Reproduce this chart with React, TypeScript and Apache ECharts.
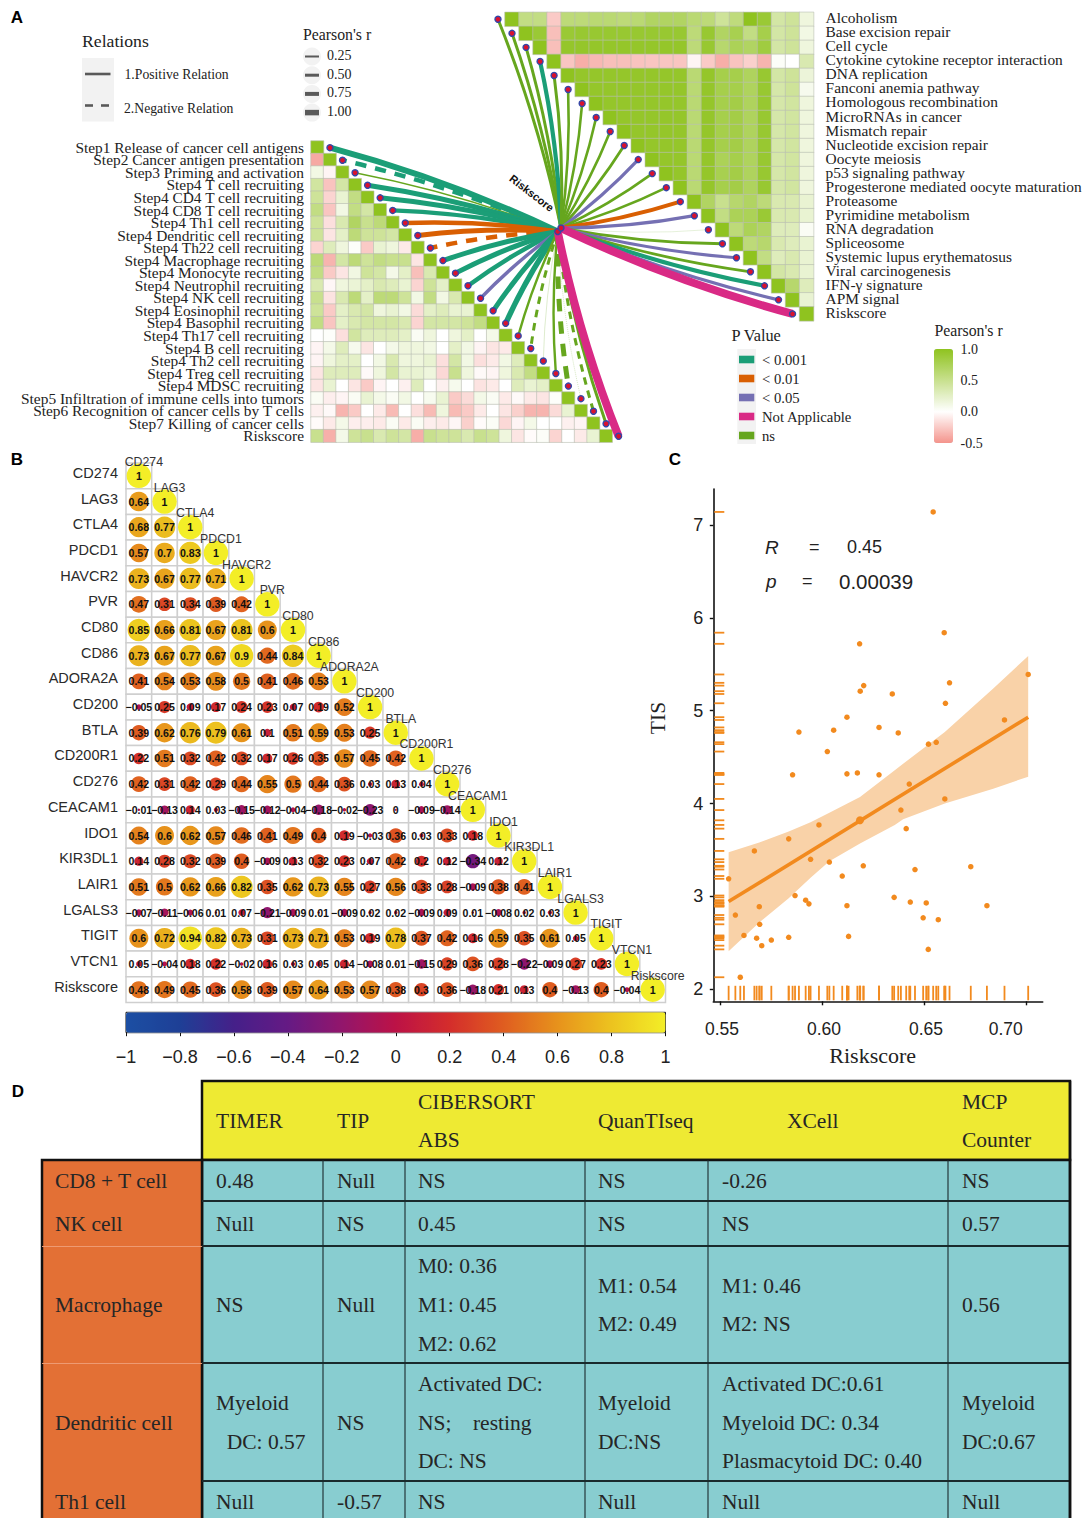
import React, { useEffect, useRef } from "react";
import * as echarts from "echarts";

/* ---------- Panel A ---------- */
const immuneSteps = [
  "Step1 Release of cancer cell antigens", "Step2 Cancer antigen presentation", "Step3 Priming and activation",
  "Step4 T cell recruiting", "Step4 CD4 T cell recruiting", "Step4 CD8 T cell recruiting", "Step4 Th1 cell recruiting",
  "Step4 Dendritic cell recruiting", "Step4 Th22 cell recruiting", "Step4 Macrophage recruiting", "Step4 Monocyte recruiting",
  "Step4 Neutrophil recruiting", "Step4 NK cell recruiting", "Step4 Eosinophil recruiting", "Step4 Basophil recruiting",
  "Step4 Th17 cell recruiting", "Step4 B cell recruiting", "Step4 Th2 cell recruiting", "Step4 Treg cell recruiting",
  "Step4 MDSC recruiting", "Step5 Infiltration of immune cells into tumors", "Step6 Recognition of cancer cells by T cells",
  "Step7 Killing of cancer cells", "Riskscore",
];
const immuneMatrix = [
  [1],
  [-0.4, 1],
  [0.12, -0.05, 1],
  [0.42, -0.28, 0.4, 1],
  [0.45, -0.2, 0.2, 0.55, 1],
  [0.55, -0.27, 0.12, 0.55, 0.4, 1],
  [0.45, -0.15, 0.35, 0.7, 0.5, 0.6, 1],
  [0.45, -0.12, 0.25, 0.6, 0.45, 0.45, 0.4, 1],
  [-0.2, 0.3, 0.15, 0.02, -0.25, 0.2, 0.15, -0.1, 1],
  [0.6, -0.35, 0.4, 0.6, 0.45, 0.55, 0.5, 0.5, -0.12, 1],
  [0.55, -0.25, -0.12, 0.13, 0.45, 0.4, 0.1, 0.25, -0.3, 0.35, 1],
  [0.35, -0.04, 0.15, 0.18, 0.25, 0.35, 0.3, 0.2, -0.2, 0.45, 0.25, 1],
  [0.5, -0.13, 0.35, 0.6, 0.25, 0.6, 0.6, 0.45, 0.12, 0.55, 0.12, 0.35, 1],
  [0.45, -0.25, 0.25, 0.35, 0.4, 0.15, 0.2, 0.12, -0.17, 0.25, 0.3, 0.2, 0.2, 1],
  [0.55, -0.27, 0.25, 0.35, 0.4, 0.4, 0.4, 0.35, -0.2, 0.4, 0.4, 0.4, 0.45, 0.55, 1],
  [0, 0.02, -0.15, 0.42, 0.3, 0.3, 0.3, 0.25, 0.05, 0.15, 0, 0.15, 0.25, 0, 0.1, 1],
  [-0.05, 0.1, 0.3, 0.08, -0.12, 0, 0.1, 0.15, 0.15, 0.12, 0, 0.25, 0.12, -0.05, -0.12, -0.1, 1],
  [-0.05, 0.15, 0.25, 0.25, 0, 0.12, 0.35, 0.15, 0.15, 0.2, -0.15, 0.4, 0.12, -0.15, -0.1, 0.12, 0.3, 1],
  [-0.12, 0.3, 0.3, 0.3, -0.03, 0.15, 0.4, 0.2, 0.2, 0.15, -0.18, 0.5, 0.15, -0.03, -0.05, 0.15, 0.35, 0.55, 1],
  [-0.12, 0.2, 0, -0.12, -0.25, -0.05, 0, -0.07, 0.3, 0, -0.07, 0.08, 0, -0.13, -0.1, 0, 0.3, 0.2, 0.25, 1],
  [0.05, -0.08, -0.05, 0.05, 0.2, 0.1, 0.05, 0.12, 0, 0.07, 0.2, -0.25, -0.17, 0.1, 0.05, -0.1, -0.03, -0.1, -0.12, 0.02, 1],
  [-0.07, -0.03, -0.35, -0.25, 0, -0.1, -0.32, 0, -0.15, -0.32, 0.15, -0.32, -0.25, -0.1, 0, -0.12, -0.22, -0.35, -0.35, -0.17, 0.2, 1],
  [-0.02, -0.1, 0.1, -0.08, -0.08, -0.1, 0.05, -0.1, 0.05, -0.08, -0.1, -0.04, -0.22, -0.02, 0.04, -0.18, -0.05, 0.1, 0, 0, -0.07, -0.05, 1],
  [0.5, -0.37, 0.1, 0.45, 0.5, 0.35, 0.45, 0.4, -0.38, 0.5, 0.45, 0.45, 0.35, 0.5, 0.45, 0.15, -0.12, -0.02, 0.03, -0.2, 0, -0.1, 0.2, 1],
];
const pathways = [
  "Alcoholism", "Base excision repair", "Cell cycle", "Cytokine cytokine receptor interaction", "DNA replication",
  "Fanconi anemia pathway", "Homologous recombination", "MicroRNAs in cancer", "Mismatch repair", "Nucleotide excision repair",
  "Oocyte meiosis", "p53 signaling pathway", "Progesterone mediated oocyte maturation", "Proteasome", "Pyrimidine metabolism",
  "RNA degradation", "Spliceosome", "Systemic lupus erythematosus", "Viral carcinogenesis", "IFN-γ signature", "APM signal", "Riskscore",
];
const pathwayMatrix = [
  [1, 0.55, 0.55, -0.25, 0.6, 0.6, 0.62, 0.62, 0.6, 0.62, 0.7, 0.7, 0.7, 0.62, 0.6, 0.45, 0.58, 1, 0.9, 0.4, 0.45, 0.15],
  [1, 0.9, -0.3, 0.9, 0.92, 0.92, 0.92, 0.92, 0.92, 0.92, 0.92, 0.92, 0.6, 0.92, 0.7, 0.78, 0.55, 0.8, 0.4, 0.45, 0.12],
  [1, -0.3, 0.95, 0.95, 0.95, 0.95, 0.95, 0.95, 0.95, 0.95, 0.95, 0.6, 0.92, 0.65, 0.75, 0.7, 0.85, 0.4, 0.45, 0.15],
  [1, -0.27, -0.38, -0.33, -0.3, -0.3, -0.28, -0.27, -0.27, -0.27, -0.05, -0.25, -0.38, -0.28, -0.22, -0.35, 0.03, 0, 0.35],
  [1, 0.95, 0.95, 0.95, 0.95, 0.95, 0.95, 0.95, 0.95, 0.62, 0.95, 0.8, 0.8, 0.72, 0.92, 0.4, 0.45, 0.17],
  [1, 0.95, 0.95, 0.95, 0.95, 0.95, 0.95, 0.95, 0.62, 0.95, 0.8, 0.8, 0.72, 0.92, 0.38, 0.45, 0.08],
  [1, 0.95, 0.95, 0.95, 0.95, 0.95, 0.95, 0.62, 0.95, 0.8, 0.82, 0.72, 0.92, 0.38, 0.42, 0.15],
  [1, 0.95, 0.95, 0.95, 0.95, 0.95, 0.62, 0.95, 0.8, 0.82, 0.72, 0.92, 0.38, 0.42, 0.15],
  [1, 0.95, 0.95, 0.95, 0.95, 0.62, 0.95, 0.8, 0.82, 0.72, 0.92, 0.38, 0.42, 0.15],
  [1, 0.95, 0.95, 0.95, 0.62, 0.95, 0.8, 0.82, 0.72, 0.92, 0.38, 0.42, 0.15],
  [1, 0.95, 0.95, 0.62, 0.95, 0.75, 0.8, 0.72, 0.92, 0.38, 0.42, 0.15],
  [1, 0.95, 0.62, 0.95, 0.78, 0.82, 0.72, 0.92, 0.38, 0.42, 0.15],
  [1, 0.62, 0.95, 0.8, 0.82, 0.72, 0.92, 0.38, 0.42, 0.15],
  [1, 0.7, 0.5, 0.65, 0.7, 0.6, 0.35, 0.35, 0.2],
  [1, 0.55, 0.75, 0.75, 0.9, 0.35, 0.35, 0.2],
  [1, 0.6, 0.75, 0.7, 0.3, 0.3, 0.05],
  [1, 0.6, 0.65, 0.35, 0.3, 0.2],
  [1, 0.55, 0.3, 0.35, 0.2],
  [1, 0.4, 0.35, 0.2],
  [1, 0.65, 0.3],
  [1, 0.2],
  [1],
];
const pClassNames = ["< 0.001", "< 0.01", "< 0.05", "Not Applicable", "ns"];
const pClassColors = ["#1b9e77", "#d95f02", "#7570b3", "#d92a85", "#66a61e"];
// p class index, width and dash kind (0 solid, 1 dashed, 2 dotted) of every link
const immuneLinkClass = [0, 0, 4, 0, 0, 0, 1, 1, 1, 0, 0, 0, 2, 0, 0, 4, 4, 4, 4, 4, 4, 4, 4, 3];
const immuneLinkWidth = [6, 4.5, 1.3, 5, 5, 4.2, 4.5, 4.8, 4.5, 5, 5, 4.5, 3.4, 5, 5.4, 2.4, 3, 0.4, 2.4, 5, 0.5, 3, 3, 8];
const immuneLinkDash = [0, 1, 0, 0, 0, 0, 0, 0, 1, 0, 0, 0, 0, 0, 0, 0, 1, 0, 0, 1, 2, 1, 0, 0];
const pathwayLinkClass = [4, 4, 4, 0, 4, 4, 4, 4, 4, 4, 2, 4, 4, 1, 2, 4, 4, 2, 4, 0, 2, 3];
const pathwayLinkWidth = [3, 3, 3, 4.2, 3, 2.6, 2.6, 2.6, 2.6, 2.8, 3.2, 2.6, 2.6, 4, 3.2, 0.3, 2.8, 3.2, 2.8, 4.2, 3.2, 8];
const relationLabels = ["1.Positive Relation", "2.Negative Relation"];
const sizeLegendLabels = ["0.25", "0.50", "0.75", "1.00"];

/* ---------- Panel B ---------- */
const checkpointGenes = [
  "CD274", "LAG3", "CTLA4", "PDCD1", "HAVCR2", "PVR", "CD80", "CD86", "ADORA2A", "CD200", "BTLA", "CD200R1", "CD276",
  "CEACAM1", "IDO1", "KIR3DL1", "LAIR1", "LGALS3", "TIGIT", "VTCN1", "Riskscore",
];
const checkpointMatrix = [
  [1],
  [0.64, 1],
  [0.68, 0.77, 1],
  [0.57, 0.7, 0.83, 1],
  [0.73, 0.67, 0.77, 0.71, 1],
  [0.47, 0.31, 0.34, 0.39, 0.42, 1],
  [0.85, 0.66, 0.81, 0.67, 0.81, 0.6, 1],
  [0.73, 0.67, 0.77, 0.67, 0.9, 0.44, 0.84, 1],
  [0.41, 0.54, 0.53, 0.58, 0.5, 0.41, 0.46, 0.53, 1],
  [-0.05, 0.25, 0.09, 0.17, 0.24, 0.23, 0.07, 0.19, 0.52, 1],
  [0.39, 0.62, 0.76, 0.79, 0.61, 0.1, 0.51, 0.59, 0.53, 0.25, 1],
  [0.22, 0.51, 0.32, 0.42, 0.32, 0.17, 0.26, 0.35, 0.57, 0.45, 0.42, 1],
  [0.42, 0.31, 0.42, 0.29, 0.44, 0.55, 0.5, 0.44, 0.36, 0.03, 0.13, 0.04, 1],
  [-0.01, -0.13, 0.14, 0.03, -0.15, -0.12, -0.04, -0.18, -0.02, -0.23, 0, -0.09, -0.14, 1],
  [0.54, 0.6, 0.62, 0.57, 0.46, 0.41, 0.49, 0.4, 0.19, -0.03, 0.36, 0.03, 0.33, 0.18, 1],
  [0.14, 0.28, 0.32, 0.39, 0.4, -0.09, 0.13, 0.32, 0.23, 0.07, 0.42, 0.2, 0.12, -0.34, 0.12, 1],
  [0.51, 0.5, 0.62, 0.66, 0.82, 0.35, 0.62, 0.73, 0.55, 0.27, 0.56, 0.33, 0.28, -0.09, 0.38, 0.41, 1],
  [-0.07, -0.11, -0.06, 0.01, 0.07, -0.21, -0.09, 0.01, -0.09, 0.02, 0.02, -0.09, 0.09, 0.01, -0.08, 0.02, 0.03, 1],
  [0.6, 0.72, 0.94, 0.82, 0.73, 0.31, 0.73, 0.71, 0.53, 0.19, 0.78, 0.37, 0.42, 0.16, 0.59, 0.35, 0.61, 0.05, 1],
  [0.05, -0.04, 0.18, 0.22, -0.02, 0.16, 0.03, 0.05, 0.14, -0.08, 0.01, -0.15, 0.29, 0.36, 0.28, -0.22, -0.09, 0.27, 0.23, 1],
  [0.48, 0.49, 0.45, 0.36, 0.58, 0.39, 0.57, 0.64, 0.53, 0.57, 0.38, 0.3, 0.36, -0.18, 0.21, 0.13, 0.4, -0.13, 0.4, -0.04, 1],
];
const corrColors = ["#1c4fa3", "#1e3f96", "#452089", "#651a84", "#92166c", "#bc1246", "#d42d2b", "#df5d20", "#e7921c", "#ecc31f", "#f3ee27"];

/* ---------- Panel C ---------- */
const riskScores = [
  0.6543, 0.6597, 0.6183, 0.6623, 0.6203, 0.6186, 0.6343, 0.7008, 0.6603, 0.6892, 0.6121, 0.6278, 0.6056, 0.5886, 0.6372,
  0.652, 0.6558, 0.6025, 0.5855, 0.6121, 0.6172, 0.6278, 0.6426, 0.66, 0.6385, 0.6185, 0.5984, 0.6411, 0.5836, 0.5668,
  0.5943, 0.6035, 0.6201, 0.6727, 0.6454, 0.6098, 0.5542, 0.5867, 0.6352, 0.5919, 0.5935, 0.6431, 0.6509, 0.5692, 0.6121,
  0.6806, 0.5575, 0.6494, 0.6568, 0.5694, 0.5617, 0.6129, 0.5679, 0.5836, 0.5751, 0.5704, 0.6519, 0.5599,
];
const tisScores = [
  7.14, 5.84, 5.72, 5.3, 5.27, 5.21, 5.18, 5.39, 5.08, 4.9, 4.93, 4.82, 4.79, 4.77, 4.76,
  4.64, 4.66, 4.56, 4.31, 4.32, 4.33, 4.31, 4.21, 4.05, 3.93, 3.82, 3.77, 3.73, 3.62, 3.49,
  3.4, 3.37, 3.33, 3.32, 3.29, 3.22, 3.19, 3.01, 2.99, 2.96, 2.92, 2.94, 2.93, 2.89, 2.9,
  2.9, 2.8, 2.77, 2.75, 2.7, 2.58, 2.57, 2.55, 2.56, 2.53, 2.47, 2.43, 2.13,
];
const fitX = [0.5542, 0.7008];
const fitY = [2.945, 4.93];
const bandX = [0.5542, 0.5692, 0.5836, 0.5943, 0.6035, 0.6185, 0.6355, 0.6396, 0.66, 0.6837, 0.7008];
const bandLow = [2.41, 2.72, 2.98, 3.2, 3.38, 3.57, 3.77, 3.83, 4.0, 4.16, 4.29];
const bandHigh = [3.475, 3.58, 3.7, 3.8, 3.9, 4.07, 4.36, 4.43, 4.77, 5.24, 5.59];
const riskTickValues = [0.55, 0.6, 0.65, 0.7];
const riskTickLabels = ["0.55", "0.60", "0.65", "0.70"];
const tisTickValues = [2, 3, 4, 5, 6, 7];

/* ---------- Panel D ---------- */
const tableHeader = [["TIMER"], ["TIP"], ["CIBERSORT", "ABS"], ["QuanTIseq"], ["XCell"], ["MCP", "Counter"]];
const tableRowNames = ["CD8 + T cell", "NK cell", "Macrophage", "Dendritic cell", "Th1 cell"];
const tableRows = [
  [["0.48"], ["Null"], ["NS"], ["NS"], ["-0.26"], ["NS"]],
  [["Null"], ["NS"], ["0.45"], ["NS"], ["NS"], ["0.57"]],
  [["NS"], ["Null"], ["M0: 0.36", "M1: 0.45", "M2: 0.62"], ["M1: 0.54", "M2: 0.49"], ["M1: 0.46", "M2: NS"], ["0.56"]],
  [["Myeloid", "  DC: 0.57"], ["NS"], ["Activated DC:", "NS;    resting", "DC: NS"], ["Myeloid", "DC:NS"], ["Activated DC:0.61", "Myeloid DC: 0.34", "Plasmacytoid DC: 0.40"], ["Myeloid", "DC:0.67"]],
  [["Null"], ["-0.57"], ["NS"], ["Null"], ["Null"], ["Null"]],
];

const SERIF = "Liberation Serif";
const SANS = "Liberation Sans";
const ORANGE = "#f28a1e";

function triangleCells(matrix: number[][]) {
  const out: number[][] = [];
  matrix.forEach((row, r) => row.forEach((v, c) => out.push([c, r, v])));
  return out;
}
function upperCells(matrix: number[][]) {
  const out: number[][] = [];
  matrix.forEach((row, r) => row.forEach((v, k) => out.push([r + k, r, v])));
  return out;
}
function txt(text: string, x: number, y: number, size: number, o: any = {}) {
  const { rotation, ...rest } = o;
  return {
    type: "text", x, y, rotation: rotation || 0, silent: true,
    style: {
      text, fontSize: size, fontFamily: rest.family || SERIF, fill: rest.fill || "#222",
      fontWeight: rest.weight || "normal", fontStyle: rest.italic ? "italic" : "normal",
      align: rest.align || "left", textAlign: rest.align || "left", verticalAlign: "middle", textVerticalAlign: "middle",
    },
  };
}
function rect(x: number, y: number, w: number, h: number, fill: string, stroke?: string, lw?: number) {
  return { type: "rect", silent: true, shape: { x, y, width: w, height: h }, style: { fill, stroke: stroke || "none", lineWidth: lw || 0 } };
}
function hline(x1: number, y1: number, x2: number, y2: number, stroke: string, lw: number) {
  return { type: "line", silent: true, shape: { x1, y1, x2, y2 }, style: { stroke, lineWidth: lw } };
}

function legendGraphics() {
  const g: any[] = [];
  g.push(txt("A", 17, 17, 17, { family: SANS, weight: "bold", fill: "#000", align: "center" }));
  g.push(txt("B", 17, 459, 17, { family: SANS, weight: "bold", fill: "#000", align: "center" }));
  g.push(txt("C", 675, 459, 17, { family: SANS, weight: "bold", fill: "#000", align: "center" }));
  g.push(txt("D", 18, 1091, 17, { family: SANS, weight: "bold", fill: "#000", align: "center" }));
  g.push(txt("Relations", 82, 40.5, 17.7));
  g.push(rect(82, 58, 32, 63.5, "#f2f2f2"));
  g.push(hline(85, 74, 110.5, 74, "#595959", 2.6));
  g.push(hline(85, 105.5, 93, 105.5, "#595959", 2.6));
  g.push(hline(101, 105.5, 109, 105.5, "#595959", 2.6));
  g.push(txt(relationLabels[0], 124.5, 74, 13.7));
  g.push(txt(relationLabels[1], 124, 108, 13.7));
  g.push(txt("Pearson's r", 303, 34.5, 15.8));
  const sizeW = [2, 3, 4, 5.5];
  sizeLegendLabels.forEach((s, i) => {
    const y = 55.5 + i * 18.7;
    g.push({ type: "circle", silent: true, shape: { cx: 312, cy: y + 1, r: 9 }, style: { fill: "#f2f2f2" } });
    g.push(hline(305, y + 1, 319, y + 1, "#595959", sizeW[i]));
    g.push(txt(s, 327, y, 14));
  });
  g.push(txt("Riskscore", 531.7, 193, 11, { family: SANS, weight: "bold", fill: "#111", align: "center", rotation: -0.66 }));
  g.push(txt("P Value", 731.5, 335, 16.3));
  g.push(rect(737.3, 349, 18.7, 95, "#f2f2f2"));
  pClassNames.forEach((s, i) => {
    const y = 359.5 + i * 19;
    g.push(rect(739, y - 3.8, 15.3, 7.6, pClassColors[i]));
    g.push(txt(s, 762, y, 14.7));
  });
  g.push(txt("Pearson's r", 934.5, 330, 15.8));
  // panel B colour bar frame
  g.push(rect(126, 1012.3, 539.5, 20.4, "none", "#111", 1));
  // panel C texts
  g.push(txt("R", 765, 547, 19, { family: SANS, italic: true }));
  g.push(txt("=", 809, 547, 18, { family: SANS }));
  g.push(txt("0.45", 847, 547, 18, { family: SANS }));
  g.push(txt("p", 766, 581, 19, { family: SANS, italic: true }));
  g.push(txt("=", 802, 581, 18, { family: SANS }));
  g.push(txt("0.00039", 839, 581, 20.5, { family: SANS }));
  g.push(txt("TIS", 658, 718, 21.5, { align: "center", rotation: Math.PI / 2 }));
  g.push(txt("Riskscore", 872.7, 1055.5, 22, { align: "center" }));
  const riskLabelX = [722, 824, 926, 1005.7];
  riskTickLabels.forEach((s, i) => g.push(txt(s, riskLabelX[i], 1029, 17.5, { family: SANS, align: "center" })));
  return g;
}

function tableGraphics() {
  const g: any[] = [];
  const xs = [202, 323, 405, 585, 708, 948, 1070];
  const ys = [1160, 1201, 1246, 1363, 1481, 1522];
  const textX = [216, 337, 418, 598, 722, 962];
  const lh = 38.6;
  const ink = "#262626";
  const size = 21.5;
  g.push(rect(202, 1081, 868, 79, "#eeea33", "#111", 2.5));
  g.push(rect(202, 1160, 868, 372, "#88cdd0", "#111", 2.5));
  g.push(rect(42, 1160, 160, 372, "#e37035", "#111", 2.5));
  g.push(hline(42, 1246.5, 202, 1246.5, "#ee9a72", 1));
  g.push(hline(42, 1363.5, 202, 1363.5, "#ee9a72", 1));
  ys.slice(1, 5).forEach((y) => g.push(hline(202, y, 1070, y, "#1a2a2c", 2.2)));
  xs.slice(1, 6).forEach((x) => g.push(hline(x, 1160, x, 1518, "#1a2a2c", 1.1)));
  g.push(hline(1070, 1081, 1070, 1518, "#111", 2.5));
  const put = (lines: string[], x: number, cy: number) => {
    lines.forEach((s, i) => g.push(txt(s, x, cy + (i - (lines.length - 1) / 2) * lh, size, { fill: ink })));
  };
  tableHeader.forEach((lines, c) => put(lines, c === 4 ? 787 : textX[c], 1120.8));
  tableRowNames.forEach((s, r) => put([s], 55, (ys[r] + ys[r + 1]) / 2 + 0.5));
  tableRows.forEach((row, r) => row.forEach((lines, c) => put(lines, textX[c], (ys[r] + ys[r + 1]) / 2 + 0.5)));
  return g;
}

export default function App() {
  const ref = useRef<HTMLDivElement>(null);
  useEffect(() => {
    document.body.style.margin = "0";
    document.body.style.overflow = "hidden";
    const chart = echarts.init(ref.current!, undefined, { renderer: "svg" });

    const hiddenCat = (data: string[], gridIndex: number) => ({
      type: "category", data, gridIndex, axisLine: { show: false }, axisTick: { show: false }, axisLabel: { show: false }, splitLine: { show: false },
    });
    const hiddenVal = (n: number, gridIndex: number, inverse = false) => ({
      type: "value", min: 0, max: n, gridIndex, inverse, show: false, splitLine: { show: false },
    });
    const linkItem = (cls: number, w: number, dash: number, from: number[], to: number[]) => ({
      coords: [from, to],
      lineStyle: {
        color: pClassColors[cls], width: w, opacity: w < 1 ? 0.55 : 1, curveness: -0.045,
        type: dash === 1 ? [2.5 * w, 2 * w] : dash === 2 ? [1, 1] : "solid",
      },
    });
    const immuneCenter = [19.66, 7.21];
    const pathwayCenter = [3.99, 15.38];
    const immuneEnds = immuneSteps.map((_, i) => [i + 1.51, i + 0.53]);
    const pathwayEnds = pathways.map((_, i) => [i - 0.5, i + 0.5]);
    const dotStyle = { color: "#d9122e", borderColor: "#3347a8", borderWidth: 1.4, opacity: 1 };
    const cellSizeB = 539.5 / 21;

    const option: any = {
      animation: false,
      backgroundColor: "#fff",
      grid: [
        { left: 311, top: 141, width: 301.2, height: 301.2 },
        { left: 311, top: 141, width: 301.2, height: 301.2 },
        { left: 505, top: 12.3, width: 308.6, height: 308.6 },
        { left: 505, top: 12.3, width: 308.6, height: 308.6 },
        { left: 126, top: 463, width: 539.5, height: 539.5 },
        { left: 126, top: 1012.3, width: 539.5, height: 20.4 },
        { left: 713.3, top: 489, width: 329.4, height: 512.3 },
        { left: 952.5, top: 349, width: 1, height: 94 },
      ],
      xAxis: [
        hiddenCat(immuneSteps, 0),
        hiddenVal(24, 1),
        hiddenCat(pathways, 2),
        hiddenVal(22, 3),
        hiddenCat(checkpointGenes, 4),
        {
          type: "value", gridIndex: 5, min: -1, max: 1, interval: 0.2, splitLine: { show: false }, axisLine: { show: false },
          axisTick: { length: 3.5, lineStyle: { color: "#111", width: 1 } },
          axisLabel: {
            margin: 15, fontSize: 18, fontFamily: SANS, color: "#222",
            formatter: (v: number) => String(+v.toFixed(1)).replace("-", "−"),
          },
        },
        {
          type: "value", gridIndex: 6, min: 0.5467, max: 0.7079, splitLine: { show: false },
          axisLine: { lineStyle: { color: "#111", width: 1.6 } },
          axisTick: { length: 4, customValues: riskTickValues, lineStyle: { color: "#111", width: 1.4 } },
          axisLabel: { show: false },
        },
        { type: "value", gridIndex: 7, min: 0, max: 1, show: false, splitLine: { show: false } },
      ],
      yAxis: [
        {
          ...hiddenCat(immuneSteps, 0), inverse: true,
          axisLabel: { show: true, interval: 0, margin: 7, fontFamily: SERIF, fontSize: 15.4, color: "#222", align: "right" },
        },
        hiddenVal(24, 1, true),
        {
          ...hiddenCat(pathways, 2), inverse: true, position: "right",
          axisLabel: { show: true, interval: 0, margin: 12, fontFamily: SERIF, fontSize: 15.4, color: "#222", align: "left", verticalAlign: "bottom", lineHeight: 3 },
        },
        hiddenVal(22, 3, true),
        {
          ...hiddenCat(checkpointGenes, 4), inverse: true,
          axisLabel: { show: true, interval: 0, margin: 8, fontFamily: SANS, fontSize: 14.5, color: "#2a2a2a", align: "right", verticalAlign: "bottom", lineHeight: 6 },
        },
        { type: "value", gridIndex: 5, min: 0, max: 1, show: false, splitLine: { show: false } },
        {
          type: "value", gridIndex: 6, min: 1.871, max: 7.387, splitLine: { show: false },
          axisLine: { lineStyle: { color: "#111", width: 1.6 } },
          axisTick: { length: 3.5, customValues: tisTickValues, lineStyle: { color: "#111", width: 1.4 } },
          axisLabel: { margin: 10, fontSize: 18, fontFamily: SANS, color: "#222", customValues: tisTickValues },
        },
        {
          type: "value", gridIndex: 7, position: "right", min: -0.5, max: 1, interval: 0.5, splitLine: { show: false },
          axisLine: { show: false }, axisTick: { show: false },
          axisLabel: { margin: 7, fontFamily: SERIF, fontSize: 14, color: "#222", formatter: (v: number) => v.toFixed(1) },
        },
      ],
      visualMap: [
        {
          type: "continuous", seriesIndex: [0, 1], min: -0.5, max: 1, dimension: 2, calculable: false, text: ["", ""], padding: 0,
          left: 934, top: 349, itemWidth: 19, itemHeight: 94, showLabel: false,
          inRange: { color: ["#f4948c", "#ffffff", "#c8e08e", "#8fc31f"] },
        },
        {
          type: "continuous", seriesIndex: [7], min: -1, max: 1, dimension: 2, calculable: false, text: ["", ""], padding: 0,
          orient: "horizontal", left: 126, top: 1012.3, itemWidth: 20.4, itemHeight: 539.5,
          inRange: { color: corrColors },
        },
      ],
      series: [
        {
          type: "heatmap", xAxisIndex: 0, yAxisIndex: 0, data: triangleCells(immuneMatrix),
          itemStyle: { borderColor: "#b9bdb2", borderWidth: 0.6 }, emphasis: { disabled: true },
        },
        {
          type: "heatmap", xAxisIndex: 2, yAxisIndex: 2, data: upperCells(pathwayMatrix),
          itemStyle: { borderColor: "#b9bdb2", borderWidth: 0.6 }, emphasis: { disabled: true },
        },
        {
          type: "lines", coordinateSystem: "cartesian2d", xAxisIndex: 1, yAxisIndex: 1, clip: false, z: 3, silent: true,
          data: immuneEnds.map((e, i) => linkItem(immuneLinkClass[i], immuneLinkWidth[i], immuneLinkDash[i], immuneCenter, e)),
        },
        {
          type: "lines", coordinateSystem: "cartesian2d", xAxisIndex: 3, yAxisIndex: 3, clip: false, z: 3, silent: true,
          data: pathwayEnds.map((e, i) => linkItem(pathwayLinkClass[i], pathwayLinkWidth[i], 0, pathwayCenter, e)),
        },
        {
          type: "scatter", xAxisIndex: 1, yAxisIndex: 1, clip: false, z: 4, silent: true, symbolSize: 6,
          data: [...immuneEnds, immuneCenter], itemStyle: dotStyle,
        },
        {
          type: "scatter", xAxisIndex: 3, yAxisIndex: 3, clip: false, z: 4, silent: true, symbolSize: 6,
          data: [...pathwayEnds, pathwayCenter], itemStyle: dotStyle,
        },
        {
          type: "scatter", xAxisIndex: 4, yAxisIndex: 4, symbol: "rect", symbolSize: cellSizeB, silent: true, z: 2,
          data: triangleCells(checkpointMatrix).map((d) => [d[0], d[1]]),
          itemStyle: { color: "#fff", borderColor: "#cfcfcf", borderWidth: 1.5, opacity: 1 },
        },
        {
          type: "scatter", xAxisIndex: 4, yAxisIndex: 4, silent: true, z: 3,
          data: triangleCells(checkpointMatrix),
          symbolSize: (d: number[]) => Math.max(2, 24.5 * Math.sqrt(Math.abs(d[2]))),
          itemStyle: { opacity: 1 },
          label: {
            show: true, position: "inside", color: "#111", fontSize: 10.6, fontWeight: "bold", fontFamily: SANS,
            formatter: (p: any) => String(p.value[2]).replace("-", "−"),
          },
        },
        {
          type: "scatter", xAxisIndex: 4, yAxisIndex: 4, silent: true, z: 4, symbolSize: 1,
          data: checkpointGenes.map((name, i) => ({ name, value: [i, i] })),
          itemStyle: { opacity: 0 },
          label: {
            show: true, position: "inside", offset: [5, -14], color: "#333", fontSize: 12.3, fontFamily: SANS, opacity: 1,
            formatter: (p: any) => p.name,
          },
        },
        {
          type: "custom", xAxisIndex: 6, yAxisIndex: 6, silent: true, z: 2, clip: false,
          data: bandX.map((x, i) => [x, bandLow[i], bandHigh[i]]),
          renderItem: (params: any, api: any) => {
            if (params.dataIndex !== 0) return { type: "group", children: [] };
            const up = bandX.map((x, i) => api.coord([x, bandHigh[i]]));
            const low = bandX.map((x, i) => api.coord([x, bandLow[i]])).reverse();
            return { type: "polygon", shape: { points: [...up, ...low] }, style: { fill: "#f9d2a8" } };
          },
        },
        {
          type: "custom", xAxisIndex: 6, yAxisIndex: 6, silent: true, z: 3, clip: false,
          data: riskScores.map((x) => [x, 1.871]),
          renderItem: (_: any, api: any) => {
            const p = api.coord([api.value(0), api.value(1)]);
            return { type: "line", shape: { x1: p[0], y1: p[1] - 1, x2: p[0], y2: p[1] - 15.5 }, style: { stroke: ORANGE, lineWidth: 1.8 } };
          },
        },
        {
          type: "custom", xAxisIndex: 6, yAxisIndex: 6, silent: true, z: 3, clip: false,
          data: tisScores.map((y) => [0.5467, y]),
          renderItem: (_: any, api: any) => {
            const p = api.coord([api.value(0), api.value(1)]);
            return { type: "line", shape: { x1: p[0] + 1, y1: p[1], x2: p[0] + 11, y2: p[1] }, style: { stroke: ORANGE, lineWidth: 1.8 } };
          },
        },
        {
          type: "line", xAxisIndex: 6, yAxisIndex: 6, silent: true, z: 4, symbol: "none",
          data: fitX.map((x, i) => [x, fitY[i]]), lineStyle: { color: ORANGE, width: 3.6 },
        },
        {
          type: "scatter", xAxisIndex: 6, yAxisIndex: 6, silent: true, z: 5,
          data: riskScores.map((x, i) => [x, tisScores[i]]),
          symbolSize: (d: number[]) => (d[1] === 3.82 ? 8 : 5.5),
          itemStyle: { color: ORANGE, opacity: 1 },
        },
      ],
      graphic: { elements: [...legendGraphics(), ...tableGraphics()] },
    };
    chart.setOption(option);
    return () => chart.dispose();
  }, []);
  return <div ref={ref} style={{ width: 1086, height: 1518 }} />;
}
